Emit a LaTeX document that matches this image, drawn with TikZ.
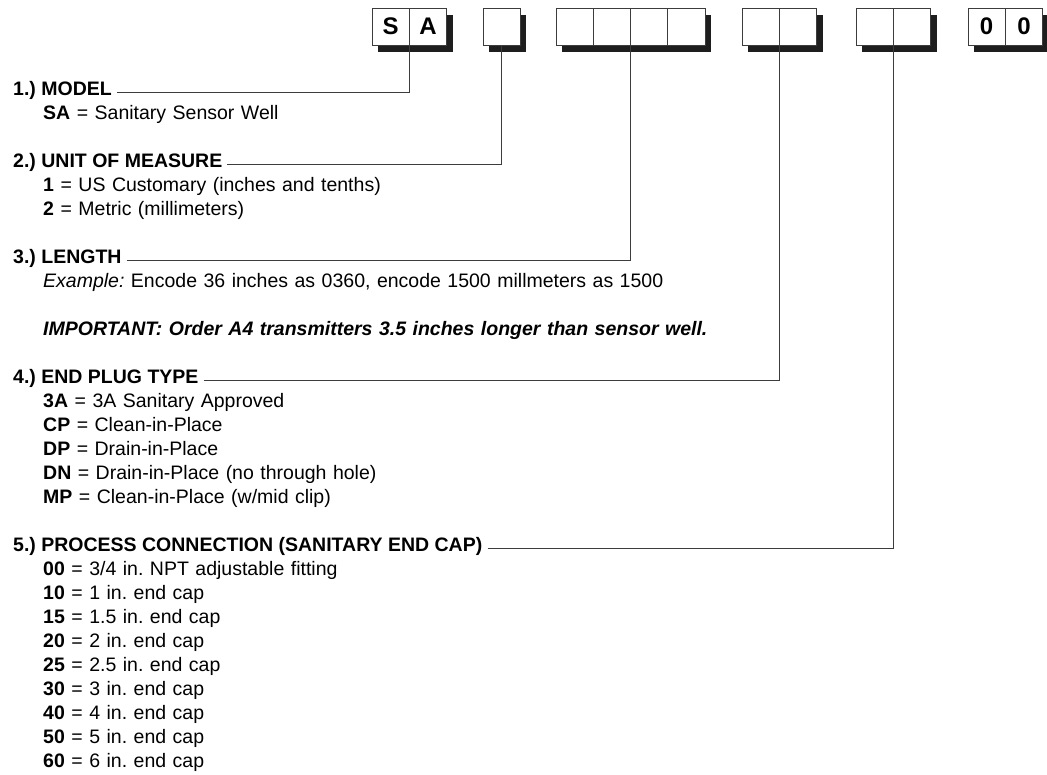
\documentclass[tikz,border=0pt]{standalone}
\usepackage{fontspec}
\setmainfont{Liberation Sans}
\frenchspacing
\definecolor{rule}{RGB}{60,60,60}
\definecolor{shade}{RGB}{30,30,30}
\usetikzlibrary{positioning,calc,backgrounds}

\begin{document}
\begin{tikzpicture}[
    x=1pt, y=1pt,
    node distance=0pt and 0pt,
    cell/.style={draw=rule, line width=0.9pt, fill=white, minimum width=37.3pt, minimum height=37pt, inner sep=0pt, outer sep=0pt, font=\fontsize{24}{28}\selectfont\bfseries},
    head/.style={anchor=base west, inner sep=0pt, font=\fontsize{19.5}{24}\selectfont\bfseries},
    items/.style={anchor=base west, inner sep=0pt, align=left, text width=740pt, font=\fontsize{19.5}{24}\selectfont},
    lead/.style={draw=rule, line width=1pt},
    boxshade/.style={fill=shade}
  ]
  \useasboundingbox (0,0) rectangle (1047,774);

  % code boxes
  \node[cell, anchor=north west] (sa1) at (372,766) {S};
  \node[cell, right=of sa1] (sa2) {A};
  \node[cell, anchor=north west] (unit) at (483,766) {};
  \node[cell, anchor=north west] (len1) at (556,766) {};
  \node[cell, right=of len1] (len2) {};
  \node[cell, right=of len2] (len3) {};
  \node[cell, right=of len3] (len4) {};
  \node[cell, anchor=north west] (plug1) at (742,766) {};
  \node[cell, right=of plug1] (plug2) {};
  \node[cell, anchor=north west] (conn1) at (856,766) {};
  \node[cell, right=of conn1] (conn2) {};
  \node[cell, anchor=north west] (end1) at (968,766) {0};
  \node[cell, right=of end1] (end2) {0};

  \begin{scope}[on background layer]
    \foreach \a/\b in {sa1/sa2, unit/unit, len1/len4, plug1/plug2, conn1/conn2, end1/end2}
      \fill[boxshade] ($(\a.south west)+(6,-7)$) rectangle ($(\b.north east)+(6,-7)$);
  \end{scope}

  % 1.) model
  \node[head] (hmodel) at (13,678) {1.) MODEL};
  \node[items] (imodel) at (43,654) {\textbf{SA} = Sanitary Sensor Well};

  % 2.) unit of measure
  \node[head] (hunit) at (13,606) {2.) UNIT OF MEASURE};
  \node[items] (iunit) at (43,582) {\textbf{1} = US Customary (inches and tenths)\\
    \textbf{2} = Metric (millimeters)};

  % 3.) length
  \node[head] (hlength) at (13,510) {3.) LENGTH};
  \node[items] (ilength) at (43,486) {\textit{Example:} Encode 36 inches as 0360, encode 1500 millmeters as 1500\\[24pt]
    \textbf{\textit{IMPORTANT: Order A4 transmitters 3.5 inches longer than sensor well.}}};

  % 4.) end plug
  \node[head] (hplug) at (13,390) {4.) END PLUG TYPE};
  \node[items] (iplug) at (43,366) {\textbf{3A} = 3A Sanitary Approved\\
    \textbf{CP} = Clean-in-Place\\
    \textbf{DP} = Drain-in-Place\\
    \textbf{DN} = Drain-in-Place (no through hole)\\
    \textbf{MP} = Clean-in-Place (w/mid clip)};

  % 5.) process connection
  \node[head] (hconn) at (13,222) {5.) PROCESS CONNECTION (SANITARY END CAP)};
  \node[items] (iconn) at (43,198) {\textbf{00} = 3/4 in. NPT adjustable fitting\\
    \textbf{10} = 1 in. end cap\\
    \textbf{15} = 1.5 in. end cap\\
    \textbf{20} = 2 in. end cap\\
    \textbf{25} = 2.5 in. end cap\\
    \textbf{30} = 3 in. end cap\\
    \textbf{40} = 4 in. end cap\\
    \textbf{50} = 5 in. end cap\\
    \textbf{60} = 6 in. end cap};

  % leaders
  \draw[lead] ($(hmodel.base east)+(5,3)$) -| (sa1.south east);
  \draw[lead] ($(hunit.base east)+(5,3)$) -| (unit.south);
  \draw[lead] ($(hlength.base east)+(5,3)$) -| (len2.south east);
  \draw[lead] ($(hplug.base east)+(5,3)$) -| (plug1.south east);
  \draw[lead] ($(hconn.base east)+(5,3)$) -| (conn1.south east);
\end{tikzpicture}
\end{document}
